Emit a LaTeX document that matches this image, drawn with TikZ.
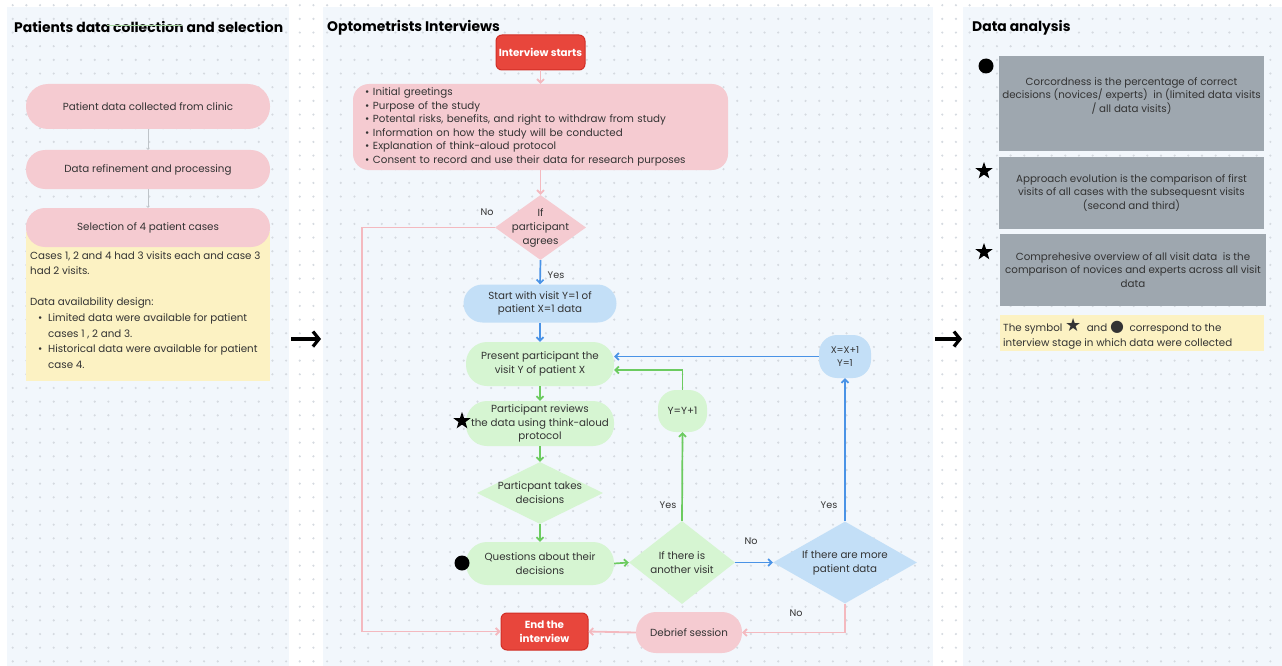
\documentclass[tikz,border=0pt]{standalone}
\usepackage{fontspec}
\setmainfont{Poppins}
\newfontfamily\symfont{DejaVu Sans}
\usetikzlibrary{arrows.meta,shapes.geometric,calc}
\definecolor{panelbg}{HTML}{F2F7FC}
\definecolor{dotc}{HTML}{D5DAE0}
\definecolor{pinkf}{HTML}{F5CBD1}
\definecolor{redf}{HTML}{E8463C}
\definecolor{redd}{HTML}{D12E26}
\definecolor{bluef}{HTML}{C3DFF7}
\definecolor{greenf}{HTML}{D6F5D2}
\definecolor{bluea}{HTML}{4A93E6}
\definecolor{greena}{HTML}{6CCB60}
\definecolor{pinka}{HTML}{F4B9BF}
\definecolor{yellowf}{HTML}{FCF2C3}
\definecolor{greyf}{HTML}{9EA7AF}
\definecolor{txt}{HTML}{333333}
\definecolor{lineg}{HTML}{BFC4C9}
\definecolor{faintg}{HTML}{A8D8A2}
\tikzset{
  base/.style={font=\fontsize{10.3}{13.6}\selectfont, text=txt, align=center, inner sep=2pt},
  small/.style={font=\fontsize{9.6}{13}\selectfont, text=txt, align=center, inner sep=1pt},
  pinkpill/.style={base, fill=pinkf, draw=none},
  bluepill/.style={base, fill=bluef, draw=none},
  greenpill/.style={base, fill=greenf, draw=none},
  redbox/.style={base, fill=redf, draw=redd, line width=1pt, rounded corners=6pt, text=white, font=\fontsize{10.3}{13.6}\selectfont\bfseries},
  dia/.style={diamond, inner sep=0pt, draw=none},
  dlab/.style={base, font=\fontsize{10.3}{14}\selectfont},
  greybox/.style={base, fill=greyf, draw=none, text=txt},
  title/.style={font=\fontsize{13.9}{16}\selectfont\bfseries, text=black, inner sep=0pt, anchor=west},
  parr/.style={draw=pinka, line width=1.8pt, -{Straight Barb[length=3.5pt,width=7pt]}},
  garr/.style={draw=greena, line width=1.7pt, -{Straight Barb[length=3.5pt,width=7pt]}},
  barr/.style={draw=bluea, line width=1.7pt, -{Straight Barb[length=3.5pt,width=7pt]}},
  bigarr/.style={draw=black, line width=3.2pt, -{Straight Barb[length=6pt,width=15pt]}},
  starm/.style={star, star points=5, star point ratio=2.5, fill=black, inner sep=0pt, minimum size=18pt},
  dotm/.style={circle, fill=black, inner sep=0pt, minimum size=15pt},
}
\begin{document}
\begin{tikzpicture}[x=1pt,y=-1pt]
\useasboundingbox (0,0) rectangle (1282,666);
\fill[white] (0,0) rectangle (1282,666);
% panels
\fill[panelbg] (7,7) rectangle (289,666);
\fill[panelbg] (323,7) rectangle (933,666);
\fill[panelbg] (963,7) rectangle (1282,666);
% dot grid
\foreach \k in {0,...,48}
  \draw[dotc, line width=2.4pt, line cap=round, dash pattern=on 0pt off 13.67pt]
    (12.7,{5.2+13.67*\k}) -- (1282,{5.2+13.67*\k});

% ---------------- left panel
\node[title] (tl) at (14,27) {Patients data collection and selection};
\draw[faintg, line width=0.6pt] (107,25) -- (182,25);
\node[fill=yellowf, minimum width=244pt, minimum height=149pt, anchor=north west, inner sep=0pt] (lnote) at (26,232) {};
\node[pinkpill, minimum width=244pt, minimum height=45pt, rounded corners=22pt] (l1) at (148,106.5) {Patient data collected from clinic};
\node[pinkpill, minimum width=244pt, minimum height=39pt, rounded corners=19pt] (l2) at (148,169.5) {Data refinement and processing};
\node[pinkpill, minimum width=244pt, minimum height=39pt, rounded corners=19pt] (l3) at (148,227.5) {Selection of 4 patient cases};
\draw[lineg, line width=0.7pt, -{Straight Barb[length=1.5pt,width=3pt]}] (l1.south) -- (l2.north);
\draw[lineg, line width=0.7pt, -{Straight Barb[length=1.5pt,width=3pt]}] (l2.south) -- (l3.north);
\node[base, align=left, anchor=north west, inner sep=0pt, font=\fontsize{10.3}{15.6}\selectfont] (ltext) at (30,251) {%
Cases 1, 2 and 4 had 3 visits each and case 3\\
had 2 visits.\\[15.6pt]
Data availability design:\\
\hspace*{8pt}\makebox[10pt][l]{\textbullet}Limited data were available for patient\\
\hspace*{18pt}cases 1 , 2 and 3.\\
\hspace*{8pt}\makebox[10pt][l]{\textbullet}Historical data were available for patient\\
\hspace*{18pt}case 4.};

% big arrows between panels
\coordinate (ba1s) at (291,339);
\coordinate (ba1e) at (321,339);
\coordinate (ba2s) at (935,339);
\coordinate (ba2e) at (962,339);
\draw[bigarr] (ba1s) -- (ba1e);
\draw[bigarr] (ba2s) -- (ba2e);

% ---------------- middle panel
\node[title] (tm) at (327,28) {Optometrists Interviews};
\node[redbox, minimum width=89pt, minimum height=35pt] (start) at (540.5,52.5) {Interview starts};
\node[pinkpill, rounded corners=16pt, minimum width=375pt, minimum height=86pt, text width=351pt, inner xsep=12pt, align=left] (intro) at (540.5,127) {%
\makebox[8pt][l]{\textbullet}Initial greetings\\
\makebox[8pt][l]{\textbullet}Purpose of the study\\
\makebox[8pt][l]{\textbullet}Potental risks, benefits, and right to withdraw from study\\
\makebox[8pt][l]{\textbullet}Information on how the study will be conducted\\
\makebox[8pt][l]{\textbullet}Explanation of think-aloud protocol\\
\makebox[8pt][l]{\textbullet}Consent to record and use their data for research purposes};
\node[dia, fill=pinkf, minimum width=91pt, minimum height=65pt, label={[dlab]center:If\\participant\\agrees}] (d1) at (540.5,227.5) {};
\node[bluepill, minimum width=153pt, minimum height=38pt, rounded corners=19pt] (sv) at (540,303.5) {Start with visit Y=1 of\\patient X=1 data};
\node[greenpill, minimum width=148pt, minimum height=44pt, rounded corners=21pt] (present) at (540,364) {Present participant the\\visit Y of patient X};
\node[greenpill, minimum width=148pt, minimum height=45pt, rounded corners=21pt] (review) at (540,423.5) {Participant reviews\\the data using think-aloud\\protocol};
\node[dia, fill=greenf, minimum width=126pt, minimum height=62pt, label={[dlab]center:Particpant takes\\decisions}] (decide) at (540,493) {};
\node[greenpill, minimum width=148pt, minimum height=43pt, rounded corners=21pt] (quest) at (540,563.5) {Questions about their\\decisions};
\node[dia, fill=greenf, minimum width=106pt, minimum height=83pt, label={[dlab]center:If there is\\another visit}] (another) at (682,562.5) {};
\node[dia, fill=bluef, minimum width=144pt, minimum height=82pt, label={[dlab]center:If there are more\\patient data}] (more) at (845,562.5) {};
\node[greenpill, minimum width=49pt, minimum height=42pt, rounded corners=18pt] (yy) at (682.5,411) {Y=Y+1};
\node[bluepill, minimum width=52pt, minimum height=43pt, rounded corners=18pt, font=\fontsize{9.6}{13}\selectfont] (xx) at (845,356.5) {X=X+1\\Y=1};
\node[pinkpill, minimum width=106pt, minimum height=41pt, rounded corners=20pt] (debrief) at (689,632.5) {Debrief session};
\node[redbox, minimum width=87pt, minimum height=37pt] (end) at (544.5,631.5) {End the\\interview};
\node[starm] (s1) at (462,421) {};
\node[dotm] (c1) at (462,563) {};

% connectors
\draw[parr] (start.south) -- (intro.north);
\draw[parr] (intro.south) -- (d1.north);
\draw[barr] (d1.south) -- (sv.north);
\coordinate (nocorner) at (362,227.5);
\draw[parr] (d1.west) -- (nocorner) |- (end.west);
\draw[barr] (sv.south) -- (present.north);
\draw[garr] (present.south) -- (review.north);
\draw[garr] (review.south) -- (decide.north);
\draw[garr] (decide.south) -- (quest.north);
\draw[garr] (quest.east) -- (another.west);
\draw[garr] (another.north) -- (yy.south);
\draw[garr] (yy.north) |- ([yshift=-6pt]present.east);
\draw[barr] (another.east) -- (more.west);
\draw[barr] (more.north) -- (xx.south);
\draw[barr] (xx.west) -- (xx.west -| present.east);
\draw[parr] (more.south) |- (debrief.east);
\draw[parr] (debrief.west) -- (end.east);

% labels
\node[small] (lno1) at (487,212) {No};
\node[small] (lyes1) at (556,275) {Yes};
\node[small] (lyes2) at (668,505) {Yes};
\node[small] (lno2) at (751,541) {No};
\node[small] (lyes3) at (829,505) {Yes};
\node[small] (lno3) at (796,613) {No};

% ---------------- right panel
\node[title] (tr) at (972,28) {Data analysis};
\node[greybox, minimum width=265pt, minimum height=95pt, label={[base, yshift=7.5pt]center:Corcordness is the percentage of correct\\decisions (novices/ experts)\ \ in (limited data visits\\/ all data visits)}] (g1) at (1131.5,103.5) {};
\node[greybox, minimum width=265pt, minimum height=72pt] (g2) at (1131.5,193) {Approach evolution is the comparison of first\\visits of all cases with the subsequesnt visits\\(second and third)};
\node[greybox, minimum width=266pt, minimum height=72pt] (g3) at (1133,270) {Comprehesive overview of all visit data\ \ is the\\comparison of novices and experts across all visit\\data};
\node[dotm] (c2) at (986,66) {};
\node[starm] (s2) at (984,171) {};
\node[starm] (s3) at (984,252) {};
\node[fill=yellowf, minimum width=264pt, minimum height=36pt, inner sep=0pt] (rnote) at (1132,333) {};
\node[base, align=left, anchor=west, inner sep=0pt, font=\fontsize{10.3}{15}\selectfont] (rtext) at (1003,334) {The symbol {\symfont\fontsize{18}{15}\selectfont ★}\ \ and {\symfont\fontsize{16}{15}\selectfont ●}\ \ correspond to the\\interview stage in which data were collected};
\end{tikzpicture}
\end{document}
